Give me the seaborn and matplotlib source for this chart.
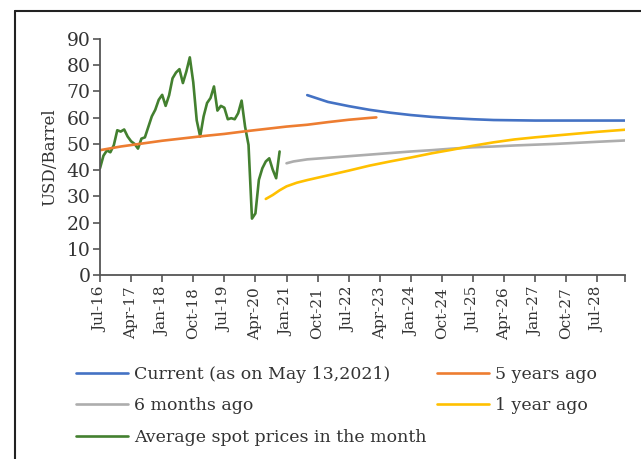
import matplotlib
matplotlib.use("Agg")
import matplotlib.pyplot as plt
from matplotlib.lines import Line2D
import seaborn as sns

# months counted from Jul-16 (0) ; axis runs to month 152
tick_labels = ['Jul-16', 'Apr-17', 'Jan-18', 'Oct-18', 'Jul-19', 'Apr-20', 'Jan-21',
               'Oct-21', 'Jul-22', 'Apr-23', 'Jan-24', 'Oct-24', 'Jul-25', 'Apr-26',
               'Jan-27', 'Oct-27', 'Jul-28']

# average spot prices, Jul-16 .. Nov-20 (monthly)
spot_month = list(range(0, 53))
spot_price = [40.7, 45.5, 47.5, 46.8, 49.5, 55.2, 54.7, 55.5, 52.8, 51.0,
              50.0, 48.2, 52.0, 52.5, 56.5, 60.5, 63.0, 66.8, 68.7, 64.5,
              68.5, 75.0, 77.2, 78.5, 73.2, 77.6, 83.0, 73.5, 59.0, 52.8,
              60.5, 65.6, 67.5, 71.9, 62.7, 64.5, 63.8, 59.4, 59.8, 59.4,
              61.7, 66.5, 56.6, 49.6, 21.5, 23.5, 36.3, 40.7, 43.3, 44.5,
              40.2, 36.9, 47.1]

# futures curves
current_month = [60, 66, 72, 78, 84, 90, 96, 102, 108, 114, 120, 126, 132, 138, 144, 152]
current_price = [68.6, 66.0, 64.4, 63.0, 61.9, 61.0, 60.3, 59.8, 59.4, 59.1, 59.0,
                 58.9, 58.9, 58.9, 58.9, 58.9]

five_yr_month = [0, 6, 12, 18, 24, 30, 36, 42, 48, 54, 60, 66, 72, 78, 80]
five_yr_price = [47.6, 49.0, 50.1, 51.2, 52.1, 53.0, 53.8, 54.8, 55.7, 56.6, 57.3,
                 58.3, 59.2, 59.9, 60.1]

six_mo_month = [54, 56, 60, 66, 72, 78, 84, 90, 96, 102, 108, 114, 120, 126, 132,
                138, 144, 152]
six_mo_price = [42.6, 43.3, 44.1, 44.7, 45.3, 45.9, 46.5, 47.1, 47.6, 48.2, 48.7,
                49.0, 49.4, 49.7, 50.0, 50.4, 50.8, 51.3]

one_yr_month = [48, 50, 52, 54, 57, 60, 66, 72, 78, 84, 90, 96, 102, 108, 114, 120,
                126, 132, 138, 144, 152]
one_yr_price = [29.0, 30.5, 32.3, 33.8, 35.2, 36.2, 38.0, 39.8, 41.7, 43.3, 44.8,
                46.4, 47.8, 49.3, 50.6, 51.7, 52.5, 53.2, 53.9, 54.6, 55.4]

sns.set_style("ticks")
plt.rcParams['font.family'] = ['DejaVu Serif']

fig = plt.figure(figsize=(6.41, 4.59), dpi=100)
ax = fig.add_axes([100 / 641, 1 - 275 / 459, 525 / 641, 236 / 459])

lw = 1.9
sns.lineplot(x=current_month, y=current_price, ax=ax, color='#4472C4', lw=lw,
             label='Current (as on May 13,2021)')
sns.lineplot(x=six_mo_month, y=six_mo_price, ax=ax, color='#ADADAD', lw=lw,
             label='6 months ago')
sns.lineplot(x=spot_month, y=spot_price, ax=ax, color='#43802F', lw=lw,
             label='Average spot prices in the month')
sns.lineplot(x=five_yr_month, y=five_yr_price, ax=ax, color='#ED7D31', lw=lw,
             label='5 years ago')
sns.lineplot(x=one_yr_month, y=one_yr_price, ax=ax, color='#FFC000', lw=lw,
             label='1 year ago')

ax.set_xlim(0, 152)
ax.set_ylim(0, 90)
ax.set_yticks(range(0, 91, 10))
ax.tick_params(axis='y', labelsize=13.5, length=5, color='#555555', width=1.2,
               labelcolor='#333333', pad=2)
ax.set_xticks(list(range(0, 145, 9)) + [152])
ax.set_xticklabels(tick_labels + [''], rotation=90)
ax.tick_params(axis='x', labelsize=11, length=5, color='#555555', width=1.2,
               labelcolor='#333333')
ax.set_ylabel('USD/Barrel', fontsize=12, labelpad=6, color='#333333')
ax.set_xlabel('')
sns.despine(ax=ax)
for s in ['left', 'bottom']:
    ax.spines[s].set_color('#555555')
    ax.spines[s].set_linewidth(1.3)

ax.legend().remove()
handles, labels = ax.get_legend_handles_labels()
leg = fig.legend(handles, labels, loc='upper left', bbox_to_anchor=(60 / 641, 1 - 350 / 459),
                 ncol=2, frameon=False, fontsize=12.5, handlelength=3.0,
                 handletextpad=0.35, columnspacing=0.6, labelspacing=0.85)
for t in leg.get_texts():
    t.set_color('#333333')

# partial frame around the figure
fig.add_artist(Line2D([15 / 641, 15 / 641], [0, 1 - 11 / 459], transform=fig.transFigure,
                      color='#222222', lw=1.5))
fig.add_artist(Line2D([15 / 641, 1], [1 - 11 / 459, 1 - 11 / 459], transform=fig.transFigure,
                      color='#222222', lw=1.5))

fig.savefig('out.png', dpi=100)
